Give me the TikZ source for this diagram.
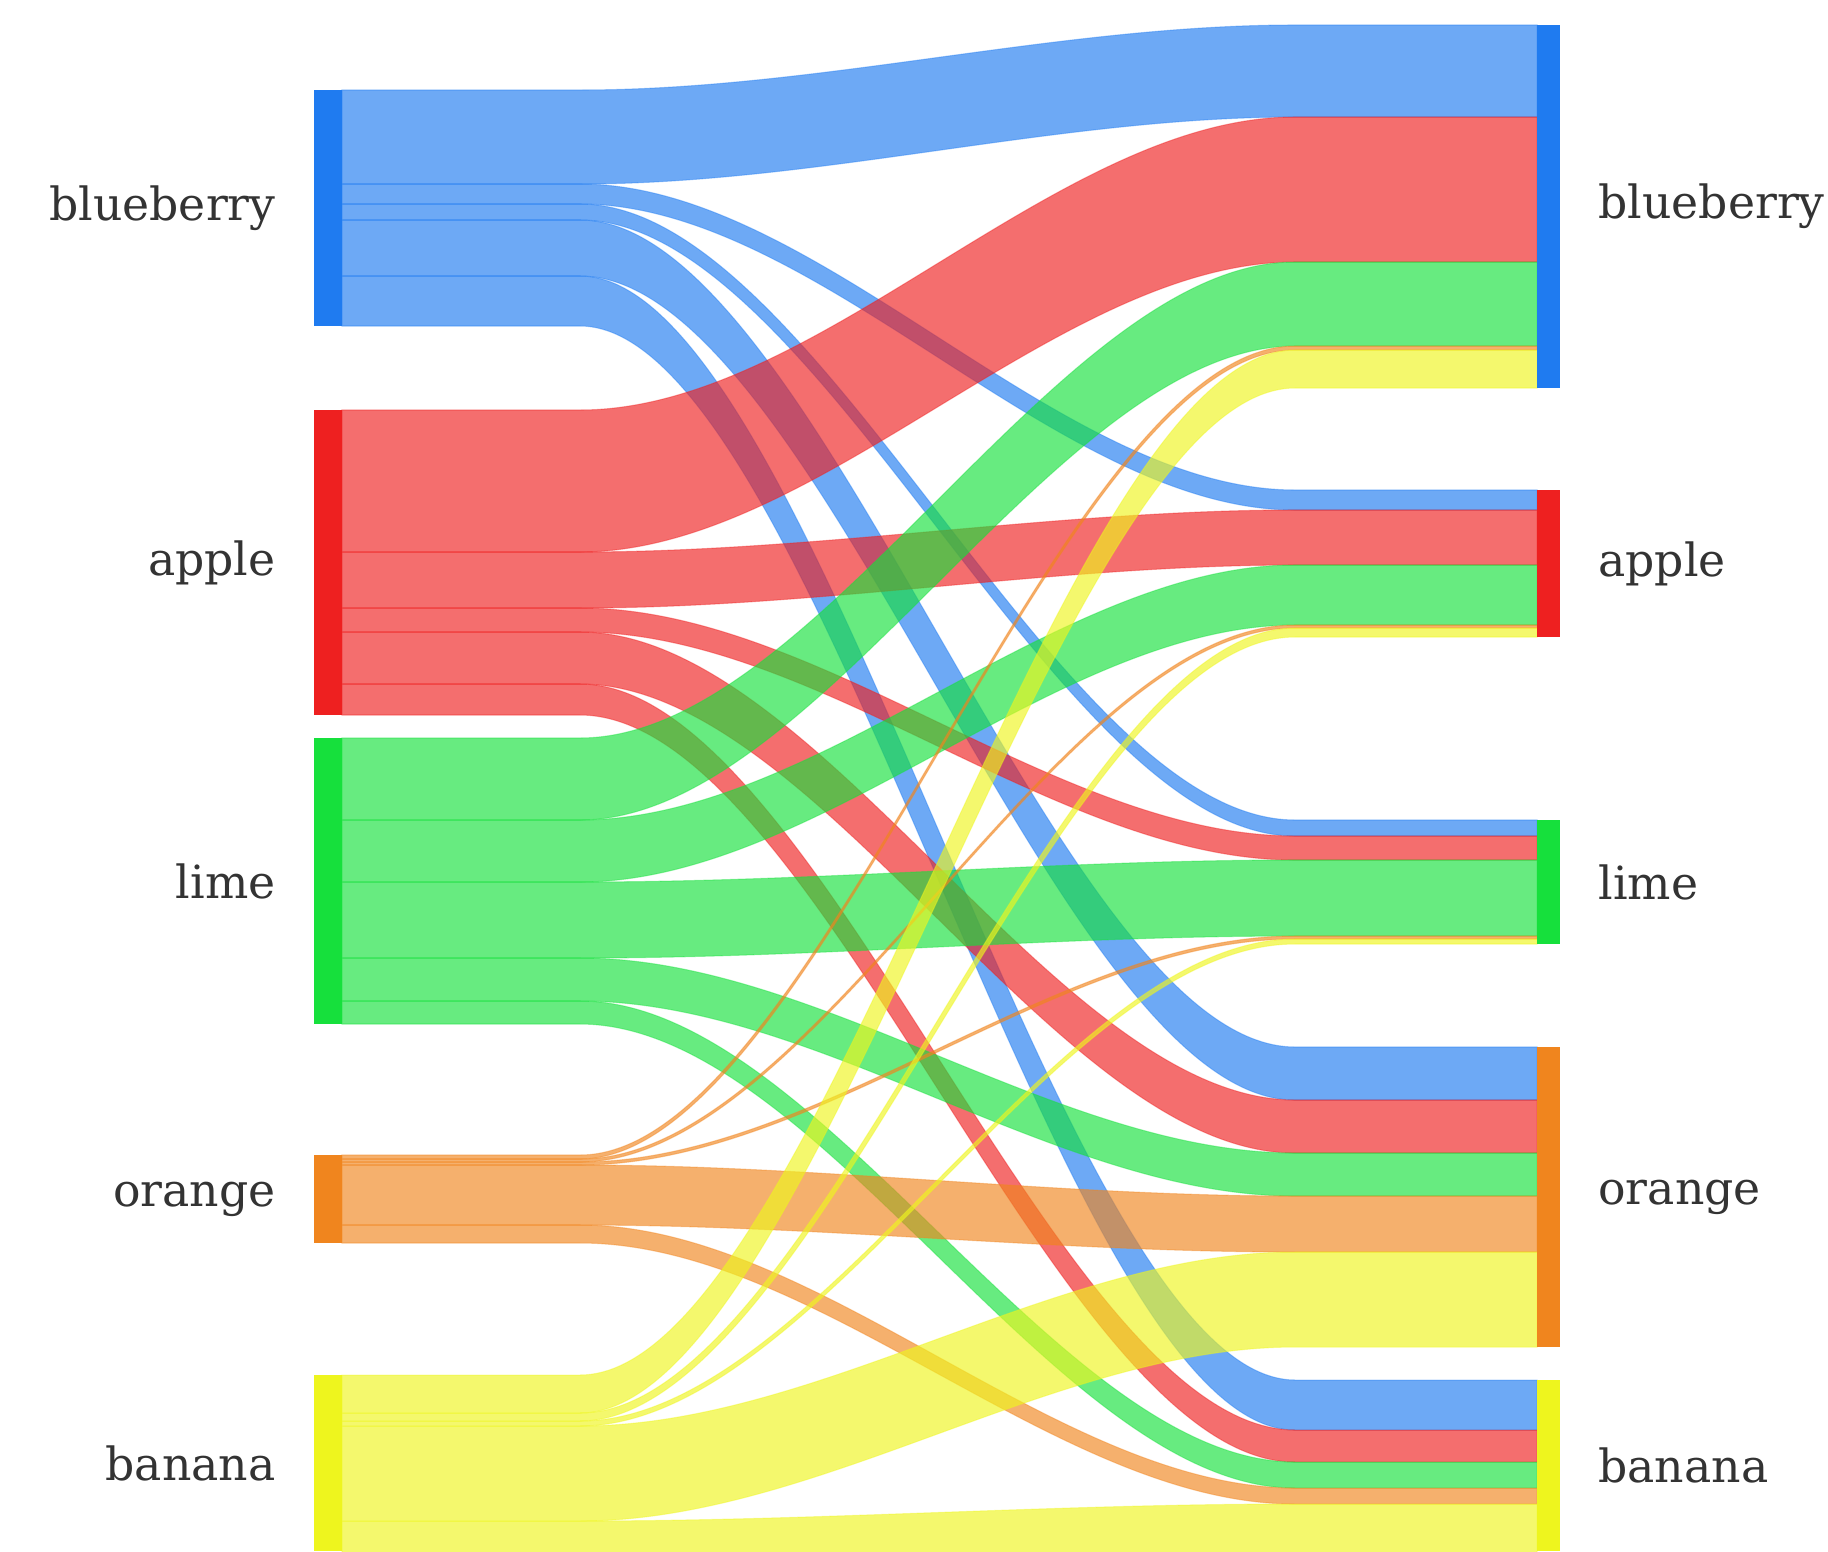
\documentclass[tikz,border=0pt]{standalone}
\usepackage{fontspec}
\setmainfont{DejaVu Serif}
\usetikzlibrary{calc,fit,positioning}
\definecolor{cblue}{HTML}{1F7BF0}
\definecolor{cred}{HTML}{EE2020}
\definecolor{cgreen}{HTML}{16E03C}
\definecolor{corange}{HTML}{F0851E}
\definecolor{cyellow}{HTML}{EEF51E}
\tikzset{strip/.style={fill=#1,draw=#1,fill opacity=.65,draw opacity=.4,line width=.3pt}}

% one strip from a left bar to a right bar
\newcommand{\flow}[5]{%
\path[strip=#1] (342,#2) -- (580,#2) .. controls (818,#2) and (1057,#4) .. (1295,#4) -- (1537,#4)
  -- (1537,#5) -- (1295,#5) .. controls (1057,#5) and (818,#3) .. (580,#3) -- (342,#3) -- cycle;}

\begin{document}
\begin{tikzpicture}[x=0.01cm,y=-0.01cm,node distance=3.7mm]

\tikzset{bar/.style={fill=#1,inner sep=0pt,draw=none},
lab/.style={font=\fontsize{13}{15}\selectfont,text=black!80,inner sep=0pt}}

\useasboundingbox (0,0) rectangle (1828,1551);

% Strips
\foreach \c/\a/\b/\p/\q in {cblue/90/184/25/117, cblue/184/204/490/510, cblue/204/220/820/836,
  cblue/220/276/1047/1100, cblue/276/326/1380/1430,
  cred/410/552/117/262, cred/552/608/510/565, cred/608/632/836/860,
  cred/632/684/1100/1153, cred/684/715/1430/1462,
  cgreen/738/820/262/346, cgreen/820/882/565/625, cgreen/882/958/860/936,
  cgreen/958/1001/1153/1196, cgreen/1001/1024/1462/1488,
  corange/1155/1159/346/350, corange/1159/1162/625/628, corange/1162/1165/936/939,
  corange/1165/1225/1196/1252, corange/1225/1243/1488/1504,
  cyellow/1375/1413/350/388, cyellow/1413/1421/628/637, cyellow/1421/1426/939/944,
  cyellow/1426/1521/1252/1347, cyellow/1521/1580/1504/1580}
  \flow{\c}{\a}{\b}{\p}{\q};

% Left bars and labels
\foreach \n/\c/\t/\b in {blueberry/cblue/90/326, apple/cred/410/715, lime/cgreen/738/1024,
  orange/corange/1155/1243, banana/cyellow/1375/1551}
  {\node[bar=\c,fit={(314,\t) (342,\b)}] (l\n) {};
   \node[lab,left=of l\n] (ll\n) {\n};}

% Right bars and labels
\foreach \n/\c/\t/\b in {blueberry/cblue/25/388, apple/cred/490/637, lime/cgreen/820/944,
  orange/corange/1047/1347, banana/cyellow/1380/1551}
  {\node[bar=\c,fit={(1537,\t) (1560,\b)}] (r\n) {};
   \node[lab,right=of r\n] (rl\n) {\n};}

\end{tikzpicture}
\end{document}
